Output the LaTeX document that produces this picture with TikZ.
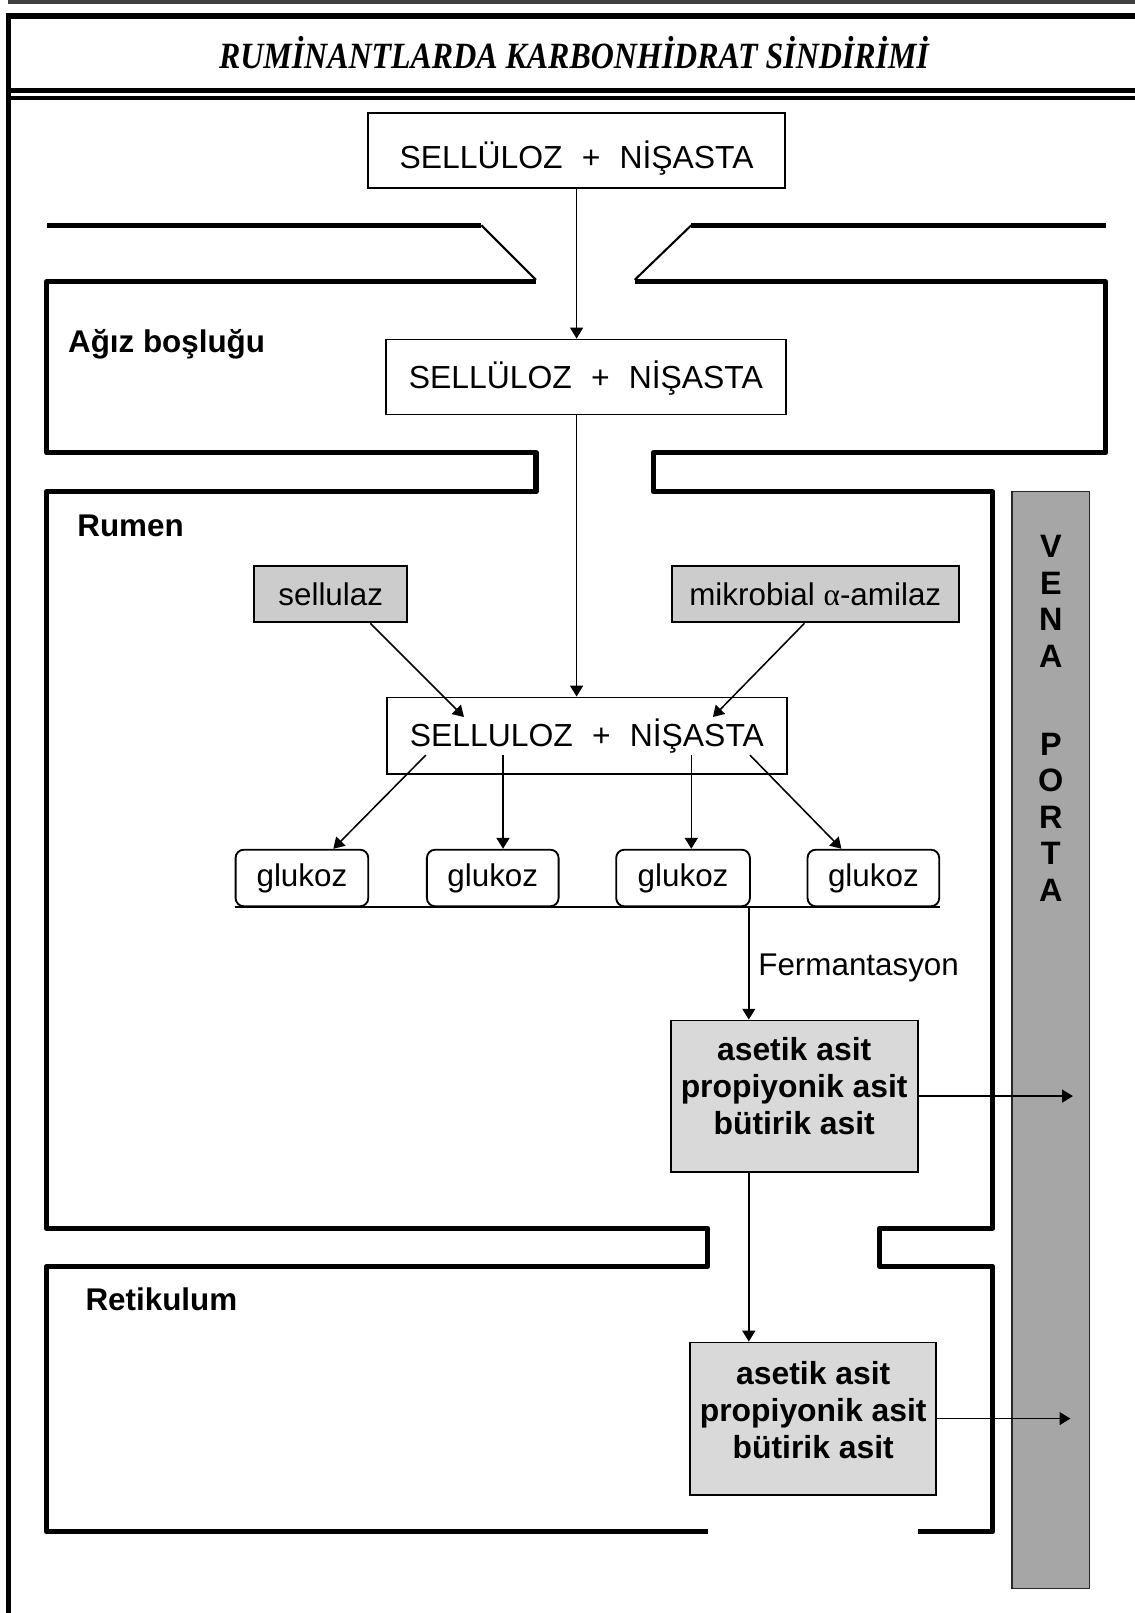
\documentclass[tikz,border=0pt]{standalone}
\usepackage{fontspec}
\setmainfont{Liberation Sans}
\newfontfamily\titleserif{Liberation Serif}
\usetikzlibrary{arrows.meta,calc}

\definecolor{enzgray}{gray}{0.80}
\definecolor{acidgray}{gray}{0.85}
\definecolor{portagray}{gray}{0.65}

\newcommand{\fsreg}{\fontsize{30.5}{36}\selectfont}
\newcommand{\fsbox}{\fontsize{31}{36}\selectfont}
\newcommand{\fsacid}{\fontsize{31}{36}\selectfont\bfseries}
\newcommand{\fslabel}{\fontsize{30.5}{36}\selectfont\bfseries}
\newcommand{\fsvena}{\fontsize{31.5}{35.5}\selectfont\bfseries}

\tikzset{
  wall/.style={line width=5pt, line join=round},
  lip/.style={line width=2pt},
  frame/.style={line width=5pt},
  sugarbox/.style={draw, line width=1.8pt, inner sep=0pt, font=\fsbox,
                   text height=22pt, text depth=0pt},
  enzbox/.style={draw, line width=1.8pt, inner sep=0pt, fill=enzgray, font=\fsreg},
  glubox/.style={draw, line width=1.8pt, inner sep=0pt, rounded corners=8pt, font=\fsreg,
                 minimum height=55pt},
  acidbox/.style={draw, line width=1.8pt, inner sep=0pt, fill=acidgray},
  acidtext/.style={font=\fsacid, align=center, inner sep=0pt},
  organ/.style={font=\fslabel, anchor=west, inner sep=0pt},
  arr/.style={line width=1.5pt, -{Triangle[length=10.5pt,width=12.5pt]}},
}

\begin{document}
\begin{tikzpicture}[x=1pt,y=-1pt]
\useasboundingbox (0,0) rectangle (1103,1568);

% page frame and title rules
\draw[line width=3.5pt, black!75] (8,2) -- (1103,2);
\draw[line width=5.5pt] (5.7,15.7) -- (1103,15.7);
\draw[frame] (8.2,13) -- (8.2,1568);
\draw[line width=4.5pt] (8,88) -- (1103,88);
\draw[line width=3.8pt] (8,95.5) -- (1103,95.5);

\node[inner sep=0pt, text height=24pt, text depth=0pt] (title) at (558,54.5)
  {\scalebox{0.8625}[1]{\titleserif\bfseries\itshape\fontsize{36}{42}\selectfont
   RUMİNANTLARDA KARBONHİDRAT SİNDİRİMİ}};

% lips
\draw[wall] (46,219) -- (468,219);
\draw[lip] (468,219) -- (521,272);
\draw[lip] (617,272) -- (672,219);
\draw[wall] (672,219) -- (1075,219);

% walls of mouth, rumen and reticulum
\draw[wall] (521,274) -- (45,274) -- (45,440) -- (521,440) -- (521,478)
  -- (45,478) -- (45,1194) -- (688,1194) -- (688,1231) -- (45,1231)
  -- (45,1489) -- (688,1489);
\draw[wall] (617,274) -- (1075,274) -- (1075,440) -- (635,440) -- (635,478)
  -- (965,478) -- (965,1194) -- (855,1194) -- (855,1231) -- (965,1231)
  -- (965,1489) -- (892,1489);

% organ labels
\node[organ] (agiz) at (66,335) {Ağız boşluğu};
\node[organ] (rumen) at (75,511) {Rumen};
\node[organ] (retik) at (83,1263) {Retikulum};

% vena porta
\node[draw=black!85, line width=1.5pt, fill=portagray, inner sep=0pt,
      minimum width=75pt, minimum height=1066pt] (porta) at (1021.5,1011) {};
\node[font=\fsvena, align=center, inner sep=0pt] (portatxt) at (1021.5,698.5)
  {V\\E\\N\\A\\[50pt]P\\O\\R\\T\\A};

% carbohydrate boxes
\node[sugarbox, minimum width=405pt, minimum height=73pt, text height=35pt] (sn1) at (560.5,146.5)
  {SELLÜLOZ\hspace{0.6em}+\hspace{0.6em}NİŞASTA};
\node[sugarbox, minimum width=389pt, minimum height=73pt] (sn2) at (569.5,366.5)
  {SELLÜLOZ\hspace{0.6em}+\hspace{0.6em}NİŞASTA};
\node[sugarbox, minimum width=389pt, minimum height=74pt] (sn3) at (570.5,715)
  {SELLULOZ\hspace{0.6em}+\hspace{0.6em}NİŞASTA};

% enzymes
\node[enzbox, minimum width=149pt, minimum height=55pt] (sel) at (321.5,577.5) {sellulaz};
\node[enzbox, minimum width=279pt, minimum height=55pt] (mik) at (792.5,577.5)
  {mikrobial {\titleserif α}-amilaz};

% glucose
\node[glubox, minimum width=129pt] (g1) at (293.5,853.5) {glukoz};
\node[glubox, minimum width=128pt] (g2) at (479,853.5) {glukoz};
\node[glubox, minimum width=130pt] (g3) at (664,853.5) {glukoz};
\node[glubox, minimum width=128pt] (g4) at (849,853.5) {glukoz};
\draw[line width=2pt] (g1.south west) -- (g4.south east);

% volatile fatty acids
\node[acidbox, minimum width=240pt, minimum height=147pt] (ac1) at (772,1065.5) {};
\node[acidtext] (ac1txt) at ($(ac1.center)+(0,-9.5)$) {asetik asit\\propiyonik asit\\bütirik asit};
\node[acidbox, minimum width=239pt, minimum height=148pt] (ac2) at (790.5,1379) {};
\node[acidtext] (ac2txt) at ($(ac2.center)+(0,-8)$) {asetik asit\\propiyonik asit\\bütirik asit};

\node[font=\fsreg, anchor=west, inner sep=0pt] (ferm) at (737,941) {Fermantasyon};

% flow
\draw[arr] (sn1.south) -- (sn1.south |- sn2.north);
\draw[arr] (sn1.south |- sn2.south) -- (sn1.south |- sn3.north);
\draw[arr] ($(sel.south)+(38.5,0)$) -- ($(sn3.center)+(-119.5,-18)$);
\draw[arr] ($(mik.south)+(-10.5,0)$) -- ($(sn3.center)+(122.5,-18)$);
\draw[arr] ($(sn3.center)+(-156.5,19)$) -- ($(g1.north)+(30.5,0)$);
\draw[arr] ($(sn3.center)+(-81.5,19)$) -- ($(g2.north)+(10,0)$);
\draw[arr] ($(sn3.center)+(101.5,19)$) -- ($(g3.north)+(8,0)$);
\draw[arr] ($(sn3.center)+(158.5,19)$) -- ($(g4.north)+(-31,0)$);
\draw[arr] ($(g3.south east)+(-2,0)$) -- ($(g3.south east |- ac1.north)+(-2,0)$);
\draw[arr] ($(g3.south east |- ac1.south)+(-2,0)$) -- ($(g3.south east |- ac2.north)+(-2,0)$);
\draw[arr] (ac1.east) -- ($(ac1.east -| porta.center)+(21.5,0)$);
\draw[arr] (ac2.east) -- ($(ac2.east -| porta.center)+(19,0)$);
\end{tikzpicture}
\end{document}
